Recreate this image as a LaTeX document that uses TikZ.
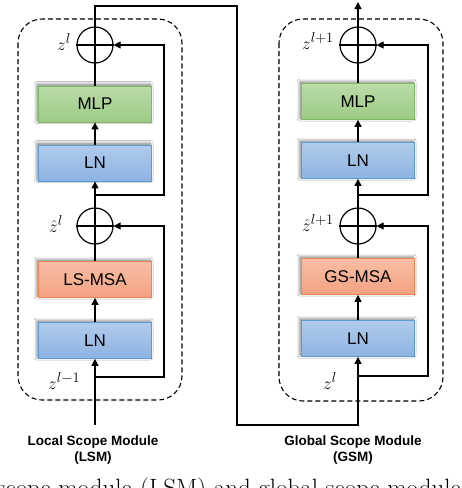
\documentclass[tikz,border=0pt]{standalone}
\usepackage{fontspec}
\setsansfont{Liberation Sans}
\usetikzlibrary{arrows.meta,shadows.blur}
\definecolor{gTop}{HTML}{BADCA8}
\definecolor{gBot}{HTML}{9CCB84}
\definecolor{gLine}{HTML}{7DB963}
\definecolor{bTop}{HTML}{B0CBEC}
\definecolor{bBot}{HTML}{8DB3E2}
\definecolor{bLine}{HTML}{5B9BD5}
\definecolor{oTop}{HTML}{F8BEA4}
\definecolor{oBot}{HTML}{F4A282}
\definecolor{oLine}{HTML}{EE8550}
\tikzset{
  blk/.style={rectangle, minimum width=113pt, minimum height=36pt, inner sep=0pt,
    line width=0.8pt, font=\sffamily\fontsize{17}{20}\selectfont,
    blur shadow={shadow xshift=-1.5pt, shadow yshift=1.5pt, shadow blur radius=3pt,
      shadow blur steps=14, shadow opacity=55}},
  greenblk/.style={blk, draw=gLine, top color=gTop, bottom color=gBot},
  blueblk/.style={blk, draw=bLine, top color=bTop, bottom color=bBot},
  orangeblk/.style={blk, draw=oLine, top color=oTop, bottom color=oBot},
  addc/.style={circle, draw, line width=1.2pt, minimum size=36pt, inner sep=0pt},
  wire/.style={line width=1.2pt},
  arr/.style={wire, -{Triangle[length=7pt,width=7pt]}},
  modbox/.style={draw, line width=1.1pt, dash pattern=on 5pt off 3pt, rounded corners=24pt},
  mlab/.style={inner sep=0pt, font=\fontsize{19}{22}\selectfont},
  modname/.style={align=center, font=\sffamily\bfseries\fontsize{13.5}{16}\selectfont, inner sep=0pt},
  captxt/.style={inner sep=0pt, font=\fontsize{25}{28}\selectfont}
}
\begin{document}
\begin{tikzpicture}[x=1pt,y=-1pt]
\useasboundingbox (0,0) rectangle (462,488);
\clip (0,0) rectangle (462,488);
\fill[white] (0,0) rectangle (462,488);

% module frames
\draw[modbox] (18,19) rectangle (182,400);
\draw[modbox] (279,19) rectangle (443,401);

% left module
\node[blueblk]   (lLN1) at (95,340.5) {LN};
\node[orangeblk] (lMSA) at (95,279.5) {LS-MSA};
\node[blueblk]   (lLN2) at (95,163) {LN};
\node[greenblk]  (lMLP) at (95,104) {MLP};
\node[addc] (lc1) at (95,226) {};
\node[addc] (lc2) at (95,45) {};

% right module
\node[blueblk]   (rLN1) at (358,338.5) {LN};
\node[orangeblk] (rMSA) at (358,276.5) {GS-MSA};
\node[blueblk]   (rLN2) at (358,160.5) {LN};
\node[greenblk]  (rMLP) at (358,101.5) {MLP};
\node[addc] (rc1) at (358,226) {};
\node[addc] (rc2) at (358,45) {};

% plus signs
\foreach \c in {lc1,lc2,rc1,rc2}{
  \draw[wire] (\c.north) -- (\c.south);
  \draw[wire] (\c.west) -- (\c.east);
}

% coordinates
\coordinate (inL) at (95,425);
\coordinate (t1) at (95,6);
\coordinate (t2) at (237,6);
\coordinate (t3) at (237,425);
\coordinate (t4) at (358,425);
\coordinate (outR) at (358,2);
\coordinate (lr1s) at (95,377);
\coordinate (lr1a) at (164,377);
\coordinate (lr2s) at (95,195);
\coordinate (lr2a) at (164,195);
\coordinate (rr1s) at (358,376);
\coordinate (rr1a) at (428,376);
\coordinate (rr2s) at (358,195);
\coordinate (rr2a) at (428,195);

% left flow
\draw[arr] (inL) -- (lLN1);
\draw[arr] (lLN1) -- (lMSA);
\draw[wire] (lMSA) -- (lc1.south);
\draw[arr] (lc1.north) -- (lLN2);
\draw[arr] (lLN2) -- (lMLP);
\draw[wire] (lMLP) -- (lc2.south);
\draw[arr] (lr1s) -- (lr1a) |- (lc1.east);
\draw[arr] (lr2s) -- (lr2a) |- (lc2.east);

% link between modules
\draw[arr] (lc2.north) -- (t1) -- (t2) -- (t3) -- (t4) -- (rLN1);

% right flow
\draw[arr] (rLN1) -- (rMSA);
\draw[wire] (rMSA) -- (rc1.south);
\draw[arr] (rc1.north) -- (rLN2);
\draw[arr] (rLN2) -- (rMLP);
\draw[wire] (rMLP) -- (rc2.south);
\draw[arr] (rr1s) -- (rr1a) |- (rc1.east);
\draw[arr] (rr2s) -- (rr2a) |- (rc2.east);
\draw[arr] (rc2.north) -- (outR);

% math labels
\node[mlab, anchor=base east] (lz2) at (71,50) {$z^{l}$};
\node[mlab, anchor=base east] (lz1) at (63,232) {$\hat{z}^{l}$};
\node[mlab, anchor=base west] (lz0) at (48,389) {$z^{l-1}$};
\node[mlab, anchor=base east] (rz2) at (334,49) {$z^{l+1}$};
\node[mlab, anchor=base east] (rz1) at (334,231) {$\hat{z}^{l+1}$};
\node[mlab, anchor=base west] (rz0) at (323,389) {$z^{l}$};

% module names
\node[modname] (lname) at (93,450) {Local Scope Module\\(LSM)};
\node[modname] (rname) at (353,450) {Global Scope Module\\(GSM)};

% cut-off caption (cropped at the lower edge, as in the reference)
\node[captxt, anchor=base east] (cap1) at (132,496) {Local scope module};
\node[captxt, anchor=base west] (cap2) at (140,496) {(LSM) and global scope module (GSM).};
\end{tikzpicture}
\end{document}
